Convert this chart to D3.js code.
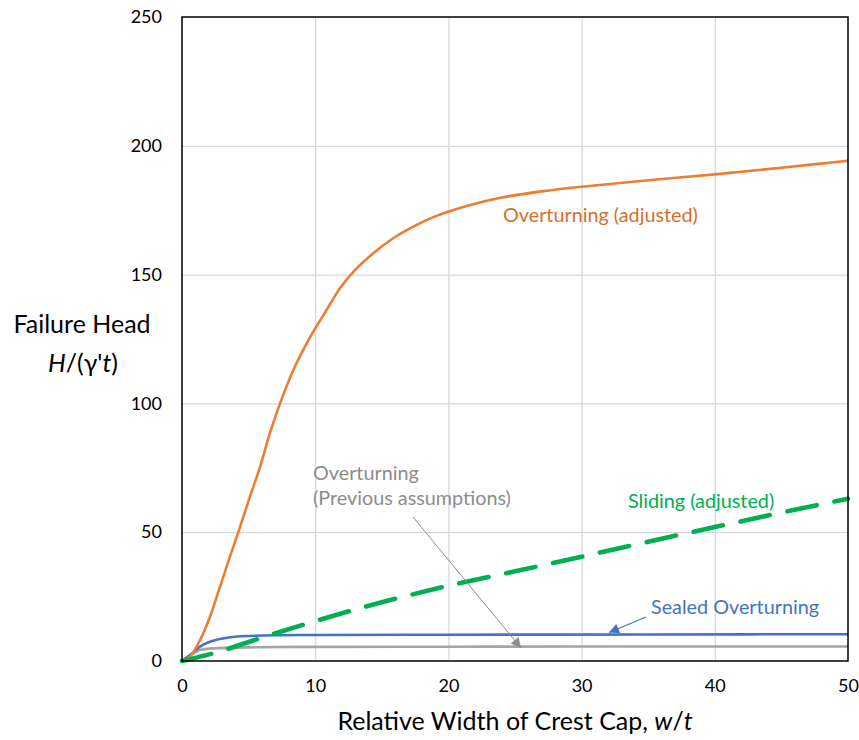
<!DOCTYPE html>
<html><head><meta charset="utf-8">
<script src="https://cdn.jsdelivr.net/npm/d3@7/dist/d3.min.js"></script>
<style>body{margin:0;background:#fff}svg{display:block}text{font-family:Lato,"Open Sans",sans-serif}</style>
</head><body>
<svg id="c" width="859" height="740"></svg>
<script>
// ---- data ----
const xTicks = [0, 10, 20, 30, 40, 50];
const yTicks = [0, 50, 100, 150, 200, 250];

const overturningAdjX = [0, 0.6, 1.35, 2.1, 2.85, 3.6, 4.23, 5.1, 5.86, 6.6, 7.36, 8.36, 9.36, 10, 10.86, 11.86, 12.86, 14.36, 15.86, 17.36, 19, 20.5, 22, 24, 27, 30, 35, 40, 45, 50];
const overturningAdjY = [0, 1.7, 8.1, 17.2, 28.8, 40.5, 50, 63.8, 75.4, 88.5, 100, 113, 123.3, 129.1, 136.3, 144.7, 151.1, 158.3, 164.1, 168.6, 172.6, 175.3, 177.5, 179.9, 182.3, 184.1, 186.6, 188.9, 191.5, 194.2];

const slidingX = [0, 2.35, 5.6, 10, 15, 20, 25, 30, 35, 40, 45, 50];
const slidingY = [0, 3, 8.4, 15.5, 22.8, 29.2, 34.8, 40.5, 46.3, 52, 57.6, 63];

const sealedX = [0, 0.6, 1.35, 2.35, 3.6, 4.86, 7.36, 10, 20, 35, 50];
const sealedY = [0, 2.3, 5.6, 7.9, 9.2, 9.7, 10.0, 10.1, 10.2, 10.3, 10.4];

const prevX = [0, 0.6, 1.35, 2.35, 4.86, 10, 20, 30, 50];
const prevY = [0, 2.0, 4.3, 4.9, 5.3, 5.5, 5.55, 5.6, 5.6];

// ---- layout ----
const svg = d3.select("#c");
const L = 182, R = 848, T = 17, B = 661;
const x = d3.scaleLinear().domain([0, 50]).range([L, R]);
const y = d3.scaleLinear().domain([0, 250]).range([B, T]);

svg.append("rect").attr("width", 859).attr("height", 740).attr("fill", "#fff");

// gridlines
svg.append("g").attr("transform", `translate(0,${B})`)
  .call(d3.axisBottom(x).tickValues(xTicks.slice(1, -1)).tickSize(-(B - T)).tickFormat(""))
  .call(g => g.select(".domain").remove())
  .call(g => g.selectAll("line").attr("stroke", "#d9d9d9").attr("stroke-width", 1.3));
svg.append("g").attr("transform", `translate(${L},0)`)
  .call(d3.axisLeft(y).tickValues(yTicks.slice(1, -1)).tickSize(-(R - L)).tickFormat(""))
  .call(g => g.select(".domain").remove())
  .call(g => g.selectAll("line").attr("stroke", "#d9d9d9").attr("stroke-width", 1.3));

// tick labels
svg.append("g").attr("transform", `translate(0,${B})`)
  .call(d3.axisBottom(x).tickValues(xTicks).tickSize(0).tickPadding(18))
  .call(g => g.select(".domain").remove())
  .call(g => g.selectAll("text").attr("font-size", 18).attr("fill", "#000").style("font-family", "Lato"));
svg.append("g").attr("transform", `translate(${L},0)`)
  .call(d3.axisLeft(y).tickValues(yTicks).tickSize(0).tickPadding(20))
  .call(g => g.select(".domain").remove())
  .call(g => g.selectAll("text").attr("font-size", 18).attr("fill", "#000").style("font-family", "Lato"));

// series
const line = d3.line().x(d => x(d[0])).y(d => y(d[1])).curve(d3.curveCatmullRom.alpha(0.5));
const zip = (a, b) => a.map((v, i) => [v, b[i]]);

svg.append("path").datum(zip(prevX, prevY)).attr("d", line.curve(d3.curveMonotoneX))
  .attr("fill", "none").attr("stroke", "#a5a5a5").attr("stroke-width", 2.6);
svg.append("path").datum(zip(sealedX, sealedY)).attr("d", line.curve(d3.curveMonotoneX))
  .attr("fill", "none").attr("stroke", "#4472c4").attr("stroke-width", 2.6);
svg.append("path").datum(zip(overturningAdjX, overturningAdjY)).attr("d", line.curve(d3.curveCatmullRom.alpha(0.5)))
  .attr("fill", "none").attr("stroke", "#ed7d31").attr("stroke-width", 2.6);
svg.append("path").datum(zip(slidingX, slidingY)).attr("d", line.curve(d3.curveMonotoneX))
  .attr("fill", "none").attr("stroke", "#00b050").attr("stroke-width", 4.6)
  .attr("stroke-dasharray", "30,18").attr("stroke-linecap", "round");

// plot frame
svg.append("rect").attr("x", L).attr("y", T).attr("width", R - L).attr("height", B - T)
  .attr("fill", "none").attr("stroke", "#000").attr("stroke-width", 1.5);

// arrowheads
const defs = svg.append("defs");
function marker(id, color, w, h) {
  defs.append("marker").attr("id", id).attr("viewBox", "0 0 10 10")
    .attr("refX", 10).attr("refY", 5).attr("markerUnits", "userSpaceOnUse")
    .attr("markerWidth", w).attr("markerHeight", h).attr("orient", "auto")
    .append("path").attr("d", "M0,0L10,5L0,10Z").attr("fill", color);
}
marker("ag", "#8c8c8c", 12, 10);
marker("ab", "#4472c4", 12, 10);

// annotations
const aSize = 19.8;
svg.append("text").attr("x", 503).attr("y", 222).attr("font-size", aSize)
  .attr("fill", "#d86f2a").text("Overturning (adjusted)");
svg.append("text").attr("x", 628).attr("y", 508).attr("font-size", aSize)
  .attr("fill", "#00b050").text("Sliding (adjusted)");
svg.append("text").attr("x", 651).attr("y", 614).attr("font-size", aSize)
  .attr("fill", "#4472c4").text("Sealed Overturning");
svg.append("text").attr("x", 313).attr("y", 480).attr("font-size", aSize)
  .attr("fill", "#8c8c8c").text("Overturning");
svg.append("text").attr("x", 313).attr("y", 505).attr("font-size", aSize)
  .attr("fill", "#8c8c8c").text("(Previous assumptions)");

svg.append("line").attr("x1", 413).attr("y1", 517).attr("x2", 521).attr("y2", 648)
  .attr("stroke", "#8c8c8c").attr("stroke-width", 1).attr("marker-end", "url(#ag)");
svg.append("line").attr("x1", 646).attr("y1", 617).attr("x2", 609).attr("y2", 632.5)
  .attr("stroke", "#4472c4").attr("stroke-width", 1.3).attr("marker-end", "url(#ab)");

// axis titles
const xt = svg.append("text").attr("x", 515).attr("y", 730).attr("text-anchor", "middle")
  .attr("font-size", 25).attr("fill", "#000");
xt.append("tspan").text("Relative Width of Crest Cap, ");
xt.append("tspan").attr("font-style", "italic").text("w");
xt.append("tspan").text("/");
xt.append("tspan").attr("font-style", "italic").text("t");

svg.append("text").attr("x", 82).attr("y", 333).attr("text-anchor", "middle")
  .attr("font-size", 25).attr("fill", "#000").text("Failure Head");
const yt = svg.append("text").attr("x", 83).attr("y", 372).attr("text-anchor", "middle")
  .attr("font-size", 25).attr("fill", "#000");
yt.append("tspan").attr("font-style", "italic").text("H");
yt.append("tspan").text("/(γ'");
yt.append("tspan").attr("font-style", "italic").text("t");
yt.append("tspan").text(")");
</script>
</body></html>
